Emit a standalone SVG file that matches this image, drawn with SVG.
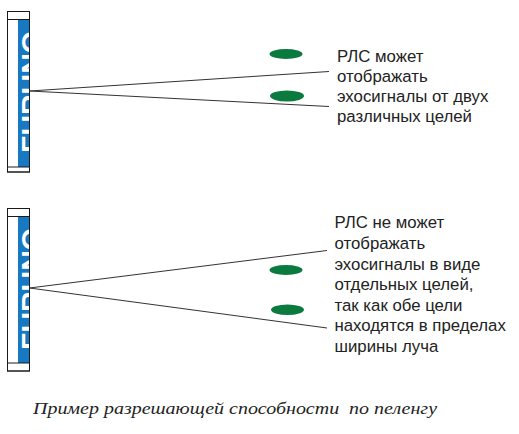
<svg xmlns="http://www.w3.org/2000/svg" width="519" height="434" viewBox="0 0 519 434">
<style>
.frame{fill:#fff;stroke:#1a1a1a;stroke-width:1}
.div{stroke:#1a1a1a;stroke-width:1}
.strip{fill:#1878c2}
.logo{font-family:"Liberation Sans",Arial,sans-serif;font-weight:bold;font-size:28.5px;fill:#fff}
.beam{stroke:#333;stroke-width:1;fill:none}
.tgt{fill:#0b7a3e}
.lbl{font-family:"Liberation Sans",Arial,sans-serif;font-size:16.8px;fill:#222}
.cap{font-family:"Liberation Serif","Times New Roman",serif;font-style:italic;font-size:17px;fill:#222}
</style>
<defs>
<clipPath id="c1"><rect x="18" y="19.5" width="11.5" height="147.5"/></clipPath>
<clipPath id="c2"><rect x="18" y="216.5" width="11.5" height="146.5"/></clipPath>
</defs>
<g id="antenna-top">
<rect class="frame" x="7.5" y="11.5" width="22" height="160.5"/>
<rect class="strip" x="18" y="19.5" width="11.5" height="147.5"/>
<g clip-path="url(#c1)"><text class="logo" transform="translate(41,153) rotate(-90)">FURUNO</text></g>
<line class="div" x1="7.5" y1="19.5" x2="29.5" y2="19.5"/>
<line class="div" x1="7.5" y1="167" x2="29.5" y2="167"/>
<rect x="7.5" y="11.5" width="22" height="160.5" fill="none" stroke="#1a1a1a"/>
</g>
<g id="antenna-bottom">
<rect class="frame" x="7.5" y="208.5" width="22" height="162.5"/>
<rect class="strip" x="18" y="216.5" width="11.5" height="146.5"/>
<g clip-path="url(#c2)"><text class="logo" transform="translate(41,350) rotate(-90)">FURUNO</text></g>
<line class="div" x1="7.5" y1="216.5" x2="29.5" y2="216.5"/>
<line class="div" x1="7.5" y1="363" x2="29.5" y2="363"/>
<rect x="7.5" y="208.5" width="22" height="162.5" fill="none" stroke="#1a1a1a"/>
</g>
<g id="connectors">
<line class="beam" x1="29.5" y1="91" x2="329" y2="71.5"/>
<line class="beam" x1="29.5" y1="91" x2="329" y2="106.5"/>
<line class="beam" x1="29.5" y1="288" x2="327" y2="250.5"/>
<line class="beam" x1="29.5" y1="288" x2="327" y2="328"/>
</g>
<g id="targets-top">
<ellipse class="tgt" cx="286" cy="54" rx="16.5" ry="5"/>
<ellipse class="tgt" cx="287" cy="96" rx="17" ry="5.5"/>
</g>
<g id="targets-bottom">
<ellipse class="tgt" cx="286" cy="270" rx="16.5" ry="5"/>
<ellipse class="tgt" cx="287.5" cy="309.7" rx="16.5" ry="5.3"/>
</g>
<g id="label-top">
<text class="lbl" x="337" y="61.7">РЛС может</text>
<text class="lbl" x="337" y="81.7">отображать</text>
<text class="lbl" x="337" y="101.7">эхосигналы от двух</text>
<text class="lbl" x="337" y="121.7">различных целей</text>
</g>
<g id="label-bottom">
<text class="lbl" x="334.5" y="228.3">РЛС не может</text>
<text class="lbl" x="334.5" y="248.9">отображать</text>
<text class="lbl" x="334.5" y="269.5">эхосигналы в виде</text>
<text class="lbl" x="334.5" y="290">отдельных целей,</text>
<text class="lbl" x="334.5" y="310.6">так как обе цели</text>
<text class="lbl" x="334.5" y="331.2">находятся в пределах</text>
<text class="lbl" x="334.5" y="351.7">ширины луча</text>
</g>
<text class="cap" x="33" y="414" textLength="404" lengthAdjust="spacingAndGlyphs" xml:space="preserve">Пример разрешающей способности  по пеленгу</text>
</svg>
